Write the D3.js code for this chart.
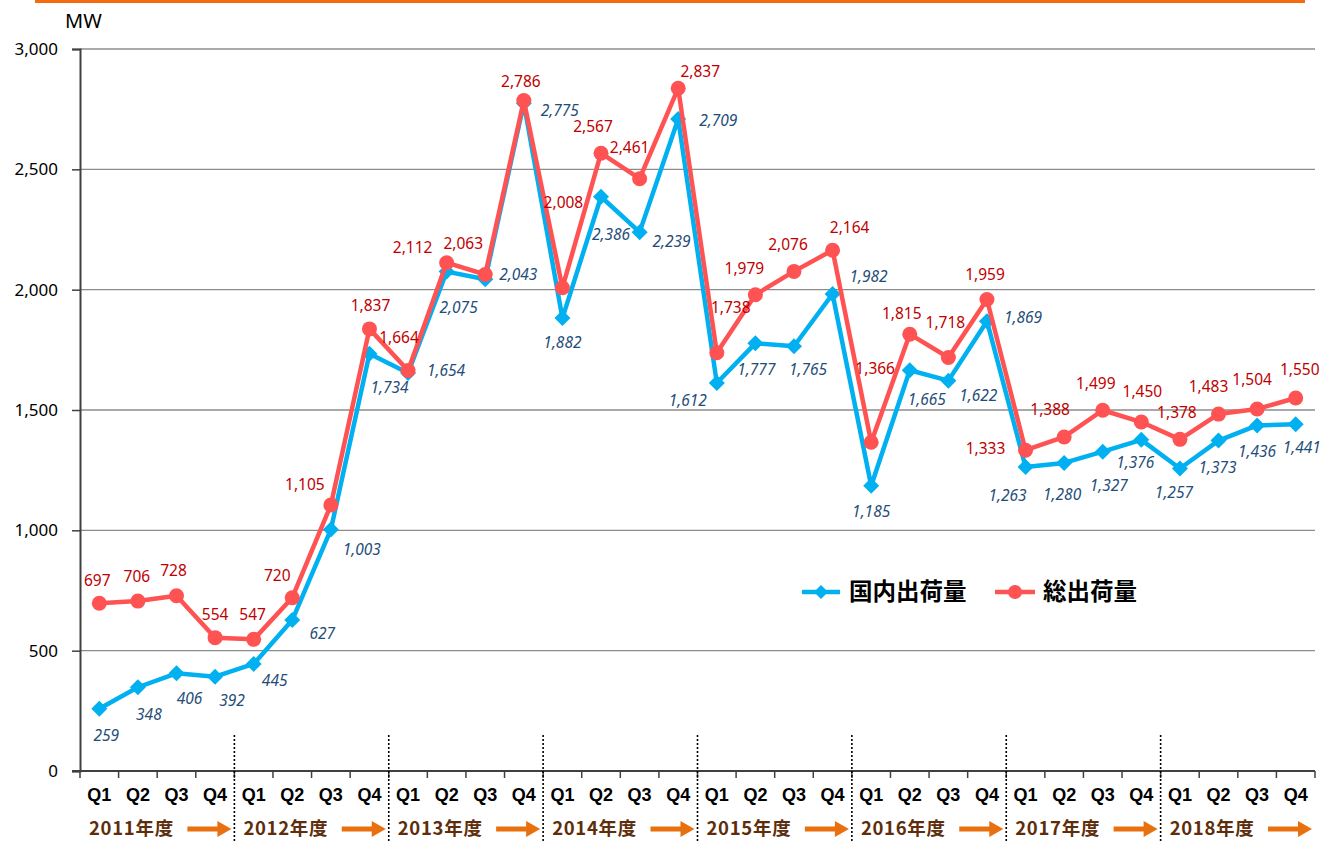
<!DOCTYPE html>
<html><head><meta charset="utf-8">
<script src="https://cdn.jsdelivr.net/npm/d3@7"></script>
<style>
html,body{margin:0;padding:0;background:#fff;}
svg{display:block;}
</style></head>
<body>
<svg id="chart" width="1321" height="841"></svg>
<script>
// ---- data ----
const fiscalYears = ["2011年度","2012年度","2013年度","2014年度","2015年度","2016年度","2017年度","2018年度"];
const quarters = ["Q1","Q2","Q3","Q4"];
const seriesNames = ["国内出荷量","総出荷量"];
const domestic = [259,348,406,392, 445,627,1003,1734, 1654,2075,2043,2775, 1882,2386,2239,2709,
                  1612,1777,1765,1982, 1185,1665,1622,1869, 1263,1280,1327,1376, 1257,1373,1436,1441];
const total = [697,706,728,554, 547,720,1105,1837, 1664,2112,2063,2786, 2008,2567,2461,2837,
               1738,1979,2076,2164, 1366,1815,1718,1959, 1333,1388,1499,1450, 1378,1483,1504,1550];
const yTicks = [0,500,1000,1500,2000,2500,3000];
const unitLabel = "MW";

// ---- label placement (pixel offsets from each point) ----
const totalLabelOffsets = [[-2,-23],[-1,-25],[-3,-25],[0,-23],[-1,-25],[-15,-22],[-26,-20],[1,-23],
  [-9,-33],[-34,-15],[-22,-31],[-3,-19],[1,-85],[-8,-27],[-10,-31],[22,-17],
  [14,-45],[-11,-26],[-6,-27],[17,-23],[4,-74],[-8,-21],[-3,-35],[-2,-25],
  [-40,-2],[-14,-27],[-7,-27],[1,-30],[-3,-27],[-10,-28],[-5,-29],[4,-28]];
const domesticLabelOffsets = [[7,27],[11,27],[13,25],[17,24],[21,17],[30,13],[31,20],[20,34],
  [38,-2],[12,36],[33,-5],[36,7],[0,25],[10,38],[32,9],[40,2],
  [-29,18],[1,26],[14,23],[36,-17],[0,26],[17,29],[30,15],[36,-4],
  [-18,29],[-2,32],[6,34],[-6,23],[-6,24],[-1,27],[0,26],[6,23]];

// ---- layout ----
const L = 80, R = 1315, T = 49, B = 771;
const BLUE = "#00b0f0", RED = "#ff5252";
const svg = d3.select("#chart");

const keys = d3.range(fiscalYears.length * quarters.length);
const x = d3.scaleBand().domain(keys).range([L, R]).padding(0);
const y = d3.scaleLinear().domain([0, 3000]).range([B, T]);
const cx = i => x(i) + x.bandwidth() / 2;

// top orange rule
svg.append("line").attr("x1", 35).attr("x2", 1305).attr("y1", 1.5).attr("y2", 1.5)
  .attr("stroke", "#f36a10").attr("stroke-width", 3);

// gridlines
svg.append("g").selectAll("line").data(yTicks.filter(v => v > 0)).join("line")
  .attr("x1", L).attr("x2", R).attr("y1", d => y(d)).attr("y2", d => y(d))
  .attr("stroke", "#8c8c8c").attr("stroke-width", 1.3);

// y axis
const yAxis = svg.append("g").attr("transform", `translate(${L},0)`)
  .call(d3.axisLeft(y).tickValues(yTicks).tickFormat(d3.format(",")).tickSize(8).tickPadding(14));
yAxis.select(".domain").attr("stroke", "#404040").attr("stroke-width", 2);
yAxis.selectAll(".tick line").attr("stroke", "#404040").attr("stroke-width", 1.5);
yAxis.selectAll(".tick text").attr("font-family", "'Noto Sans', sans-serif").attr("font-size", 17).attr("fill", "#000");

// unit label
svg.append("text").attr("x", 65).attr("y", 28).text(unitLabel)
  .attr("font-family", "'Noto Sans', sans-serif").attr("font-size", 20).attr("fill", "#000");

// x axis
const xAxisG = svg.append("g");
xAxisG.append("line").attr("x1", L - 8).attr("x2", R).attr("y1", B).attr("y2", B)
  .attr("stroke", "#404040").attr("stroke-width", 2);
const boundaries = keys.map(i => x(i)).concat([R]);
xAxisG.selectAll(".xt").data(boundaries).join("line").attr("class", "xt")
  .attr("x1", d => d).attr("x2", d => d).attr("y1", B).attr("y2", B + 7)
  .attr("stroke", "#404040").attr("stroke-width", 1.5);
xAxisG.selectAll(".ql").data(keys).join("text").attr("class", "ql")
  .attr("x", d => cx(d)).attr("y", 795).attr("dy", "0.35em").attr("text-anchor", "middle")
  .text(d => quarters[d % quarters.length])
  .attr("font-family", "'Liberation Sans', Arial, sans-serif").attr("font-weight", "bold")
  .attr("font-size", 18).attr("fill", "#000");

// fiscal-year separators (dotted)
const yearStart = fy => x(fy * quarters.length);
svg.append("g").selectAll("line").data(d3.range(1, fiscalYears.length)).join("line")
  .attr("x1", d => yearStart(d)).attr("x2", d => yearStart(d)).attr("y1", 735).attr("y2", 841)
  .attr("stroke", "#000").attr("stroke-width", 1.6).attr("stroke-dasharray", "2,2");

// fiscal year labels + arrows
const yg = svg.append("g");
fiscalYears.forEach((fy, k) => {
  const s = yearStart(k);
  const e = k === fiscalYears.length - 1 ? R : yearStart(k + 1);
  yg.append("text").attr("x", s + 9).attr("y", 829).attr("dy", "0.35em").text(fy)
    .attr("font-family", "'Noto Sans CJK JP', sans-serif").attr("font-weight", "bold")
    .attr("font-size", 18.5).attr("letter-spacing", 0.7).attr("fill", "#5e2e0c");
  const ax1 = e - 47, ax2 = e - 3;
  yg.append("line").attr("x1", ax1).attr("x2", ax2 - 12).attr("y1", 829).attr("y2", 829)
    .attr("stroke", "#e8700f").attr("stroke-width", 5);
  yg.append("path").attr("d", `M${ax2 - 14},${821}L${ax2},${829}L${ax2 - 14},${837}Z`)
    .attr("fill", "#e8700f");
});

// lines
const line = d3.line().x((d, i) => cx(i)).y(d => y(d));
svg.append("path").datum(domestic).attr("d", line).attr("fill", "none")
  .attr("stroke", BLUE).attr("stroke-width", 4.5).attr("stroke-linejoin", "round");
const diamond = s => `M0,${-s}L${s},0L0,${s}L${-s},0Z`;
svg.append("g").selectAll("path").data(domestic).join("path")
  .attr("transform", (d, i) => `translate(${cx(i)},${y(d)})`).attr("d", diamond(8)).attr("fill", BLUE);

svg.append("path").datum(total).attr("d", line).attr("fill", "none")
  .attr("stroke", RED).attr("stroke-width", 4.5).attr("stroke-linejoin", "round");
svg.append("g").selectAll("circle").data(total).join("circle")
  .attr("cx", (d, i) => cx(i)).attr("cy", d => y(d)).attr("r", 7.5).attr("fill", RED);

// data labels
const fmt = d3.format(",");
svg.append("g").selectAll("text").data(domestic).join("text")
  .attr("x", (d, i) => cx(i) + domesticLabelOffsets[i][0]).attr("y", (d, i) => y(d) + domesticLabelOffsets[i][1])
  .attr("dy", "0.35em").attr("text-anchor", "middle").text(d => fmt(d))
  .attr("font-family", "'Noto Sans', sans-serif").attr("font-style", "italic").attr("font-size", 15.5)
  .attr("fill", "#1f4e79");
svg.append("g").selectAll("text").data(total).join("text")
  .attr("x", (d, i) => cx(i) + totalLabelOffsets[i][0]).attr("y", (d, i) => y(d) + totalLabelOffsets[i][1])
  .attr("dy", "0.35em").attr("text-anchor", "middle").text(d => fmt(d))
  .attr("font-family", "'Noto Sans', sans-serif").attr("font-size", 15.5)
  .attr("fill", "#c00000");

// legend
const lg = svg.append("g");
lg.append("line").attr("x1", 802).attr("x2", 840).attr("y1", 592).attr("y2", 592)
  .attr("stroke", BLUE).attr("stroke-width", 4.5);
lg.append("path").attr("transform", "translate(821,592)").attr("d", diamond(7)).attr("fill", BLUE);
lg.append("text").attr("x", 849).attr("y", 592).attr("dy", "0.36em").text(seriesNames[0])
  .attr("font-family", "'Noto Sans CJK JP', sans-serif").attr("font-weight", "bold")
  .attr("font-size", 23.5).attr("fill", "#000");
lg.append("line").attr("x1", 995).attr("x2", 1035).attr("y1", 592).attr("y2", 592)
  .attr("stroke", RED).attr("stroke-width", 4.5);
lg.append("circle").attr("cx", 1015).attr("cy", 592).attr("r", 7).attr("fill", RED);
lg.append("text").attr("x", 1043).attr("y", 592).attr("dy", "0.36em").text(seriesNames[1])
  .attr("font-family", "'Noto Sans CJK JP', sans-serif").attr("font-weight", "bold")
  .attr("font-size", 23.5).attr("fill", "#000");
</script>
</body></html>
